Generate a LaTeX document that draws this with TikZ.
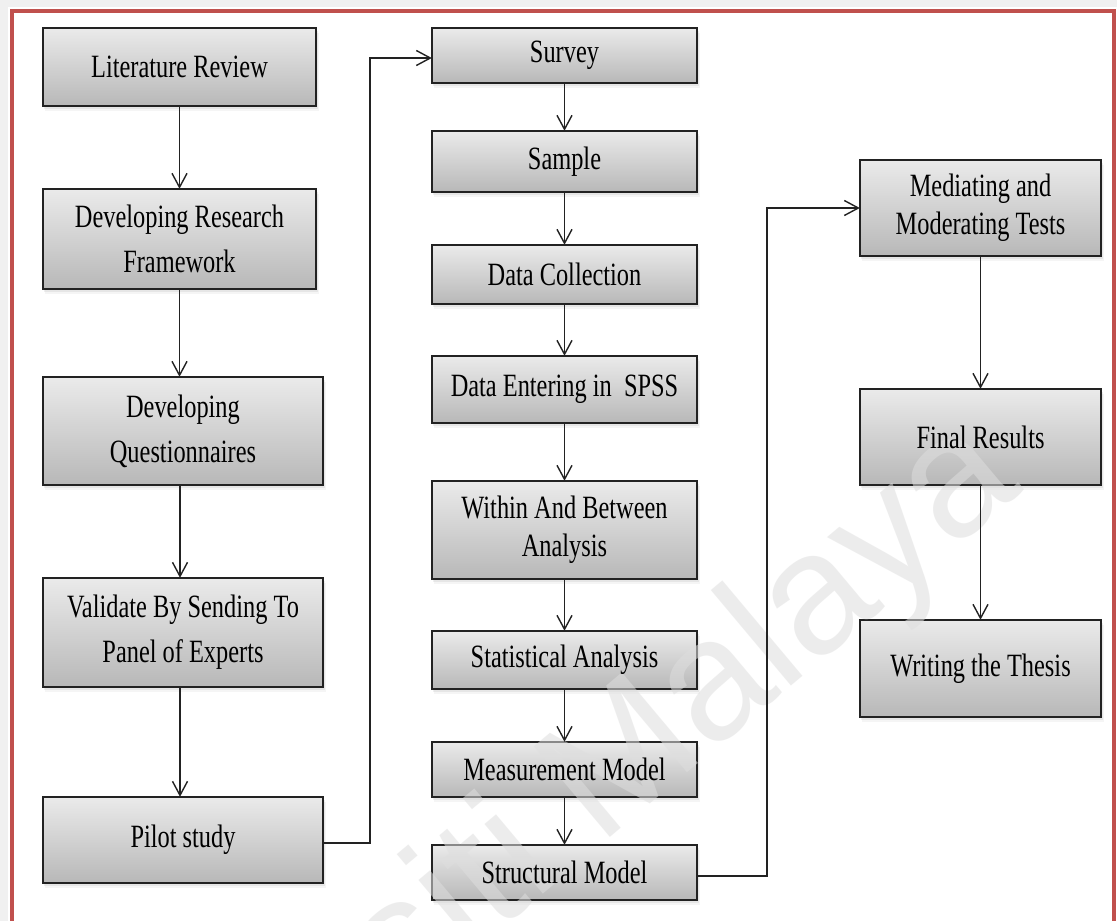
\documentclass[tikz,border=0pt]{standalone}
\usepackage{fontspec}
\setmainfont{Liberation Serif}[FakeStretch=0.75]
\newfontfamily\markfont{Liberation Sans}
\usetikzlibrary{arrows.meta,shadows}

\definecolor{framered}{HTML}{C0504D}
\definecolor{inkgray}{HTML}{222222}

\pgfdeclarelayer{page}
\pgfdeclarelayer{boxes}
\pgfdeclarelayer{mark}
\pgfsetlayers{page,boxes,mark,main}

\tikzset{
  boxpaint/.style={draw=inkgray, line width=1.6pt,
    top color=black!8, bottom color=black!28,
    drop shadow={shadow xshift=1.5pt, shadow yshift=-3pt, opacity=0.12},
    drop shadow={shadow xshift=2.5pt, shadow yshift=-5pt, opacity=0.08}},
  % the text sits on the main layer, its shaded box one layer below
  stepbox/.style={inner sep=0pt, align=center,
    font=\fontsize{32.5}{45}\selectfont,
    append after command={\pgfextra{\begin{pgfonlayer}{boxes}
      \path[boxpaint] (\tikzlastnode.north west) rectangle (\tikzlastnode.south east);
      \end{pgfonlayer}}}},
  tight/.style={font=\fontsize{32.5}{38}\selectfont},
  flow/.style={draw=inkgray, line width=1.4pt,
    -{Straight Barb[length=14pt, width=15pt]}},
}

\begin{document}
\begin{tikzpicture}[x=1pt, y=-1pt]
  \useasboundingbox (0,0) rectangle (1117,921);
  \clip (0,0) rectangle (1117,921);

  % page background and red frame
  \begin{pgfonlayer}{page}
    \fill[black!6] (0,0) rectangle (1117,921);
    \fill[white] (8,7) rectangle (1117,930);
    \draw[framered, line width=4pt] (12,11) rectangle (1114,960);
  \end{pgfonlayer}

  % first column
  \node[stepbox, minimum width=273pt, minimum height=78pt]  (lit)   at (179.5,67)  {Literature Review};
  \node[stepbox, minimum width=273pt, minimum height=100pt] (frame) at (179.5,239) {Developing Research\\Framework};
  \node[stepbox, minimum width=280pt, minimum height=108pt] (quest) at (183,431)   {Developing\\Questionnaires};
  \node[stepbox, minimum width=280pt, minimum height=109pt] (valid) at (183,632.5) {Validate By Sending To\\Panel of Experts};
  \node[stepbox, minimum width=280pt, minimum height=86pt]  (pilot) at (183,840)   {Pilot study};

  % second column
  \node[stepbox, minimum width=265pt, minimum height=55pt] (survey) at (564.5,55.5)  {Survey};
  \node[stepbox, minimum width=265pt, minimum height=61pt] (sample) at (564.5,161.5) {Sample};
  \node[stepbox, minimum width=265pt, minimum height=59pt] (collect) at (564.5,274.5) {Data Collection};
  \node[stepbox, minimum width=265pt, minimum height=67pt] (enter) at (564.5,389.5) {Data Entering in\ \ SPSS};
  \node[stepbox, tight, minimum width=265pt, minimum height=98pt] (within) at (564.5,530) {Within And Between\\Analysis};
  \node[stepbox, minimum width=265pt, minimum height=58pt] (stat) at (564.5,660)  {Statistical Analysis};
  \node[stepbox, minimum width=265pt, minimum height=55pt] (meas) at (564.5,769.5) {Measurement Model};
  \node[stepbox, minimum width=265pt, minimum height=55pt] (struct) at (564.5,872.5) {Structural Model};

  % third column
  \node[stepbox, tight, minimum width=241pt, minimum height=96pt] (medmod) at (980.5,208) {Mediating and\\Moderating Tests};
  \node[stepbox, minimum width=241pt, minimum height=96pt] (final) at (980.5,437)   {Final Results};
  \node[stepbox, minimum width=241pt, minimum height=97pt] (thesis) at (980.5,668.5) {Writing the Thesis};

  % x positions of the vertical runs of the two long connectors
  \coordinate (bendA) at (370,0);
  \coordinate (bendB) at (767,0);

  % connectors
  \draw[flow] (lit.south)   -- (lit.south |- frame.north);
  \draw[flow] (frame.south) -- (frame.south |- quest.north);
  \draw[flow] ([xshift=-3pt]quest.south) -- ([xshift=-3pt]quest.south |- valid.north);
  \draw[flow] ([xshift=-3pt]valid.south) -- ([xshift=-3pt]valid.south |- pilot.north);
  \draw[flow] ([yshift=-3pt]pilot.east) -- ([yshift=-3pt]pilot.east -| bendA)
              |- ([yshift=-2.5pt]survey.west);

  \draw[flow] (survey.south)  -- (sample.north);
  \draw[flow] (sample.south)  -- (collect.north);
  \draw[flow] (collect.south) -- (enter.north);
  \draw[flow] (enter.south)   -- (within.north);
  \draw[flow] (within.south)  -- (stat.north);
  \draw[flow] (stat.south)    -- (meas.north);
  \draw[flow] (meas.south)    -- (struct.north);
  \draw[flow] ([yshift=-3.5pt]struct.east) -- ([yshift=-3.5pt]struct.east -| bendB)
              |- (medmod.west);

  \draw[flow] (medmod.south) -- (final.north);
  \draw[flow] (final.south)  -- (thesis.north);

  % faint diagonal watermark between the shaded boxes and the texts
  \begin{pgfonlayer}{mark}
    \node[anchor=base east, rotate=40, text=black!13, opacity=0.55,
          font=\markfont\fontsize{172}{172}\selectfont, inner sep=0pt]
          (mark) at (1025,490) {Universiti Malaya};
  \end{pgfonlayer}
\end{tikzpicture}
\end{document}
